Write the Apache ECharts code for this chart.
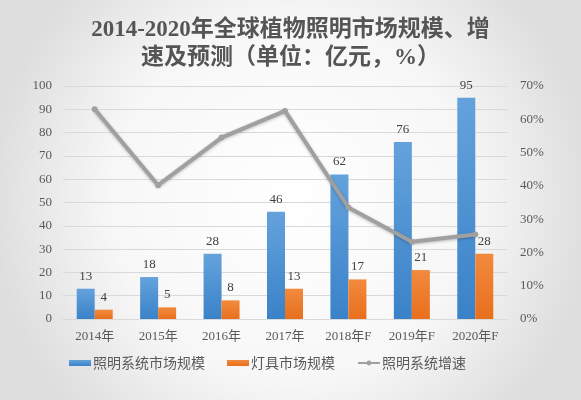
<!DOCTYPE html>
<html><head><meta charset="utf-8">
<script src="https://cdn.jsdelivr.net/npm/echarts@6/dist/echarts.min.js"></script>
<style>html,body{margin:0;padding:0;}#c{width:581px;height:400px;}</style>
</head><body><div id="c"></div>
<script>
const categories = ['2014年','2015年','2016年','2017年','2018年F','2019年F','2020年F'];
const lightingSystem = [13, 18, 28, 46, 62, 76, 95];
const luminaires = [4, 5, 8, 13, 17, 21, 28];
const growthRate = [63, 40.2, 54.5, 62.5, 33.5, 23.2, 25.4];
const leftTicks = {min: 0, max: 100, interval: 10};
const rightTicks = {min: 0, max: 70, interval: 10};

const numFont = "'Liberation Serif','Noto Sans CJK SC'";
const chart = echarts.init(document.getElementById('c'));
chart.setOption({
  backgroundColor: {
    type: 'radial', x: 0.5, y: 0.5, r: 0.75,
    colorStops: [{offset: 0, color: '#ffffff'}, {offset: 0.6, color: '#f7f7f7'}, {offset: 1, color: '#dedede'}]
  },
  title: {
    text: '2014-2020年全球植物照明市场规模、增\n速及预测（单位：亿元，%）',
    left: 'center', top: 11,
    textStyle: {fontSize: 23, fontWeight: 'bold', color: '#555555', lineHeight: 28,
      fontFamily: "'Liberation Serif','Noto Sans CJK SC'"}
  },
  legend: {
    left: 64, top: 351, itemGap: 22, itemWidth: 22, itemHeight: 6,
    textStyle: {fontSize: 14, color: '#595959', fontFamily: "'Noto Sans CJK SC'", padding: [0,0,0,-3]},
    data: [
      {name: '照明系统市场规模', icon: 'rect'},
      {name: '灯具市场规模', icon: 'rect'},
      {name: '照明系统增速'}
    ]
  },
  grid: {left: 63, right: 74, top: 86, bottom: 81},
  xAxis: {
    type: 'category', data: categories,
    axisLine: {lineStyle: {color: '#d9d9d9'}}, axisTick: {show: false},
    axisLabel: {fontSize: 13, color: '#595959', margin: 11, fontFamily: numFont}
  },
  yAxis: [
    {type: 'value', min: leftTicks.min, max: leftTicks.max, interval: leftTicks.interval,
     axisLabel: {fontSize: 13, color: '#595959', margin: 11, fontFamily: numFont},
     splitLine: {lineStyle: {color: '#d9d9d9'}}, axisLine: {show: false}, axisTick: {show: false}},
    {type: 'value', min: rightTicks.min, max: rightTicks.max, interval: rightTicks.interval,
     axisLabel: {fontSize: 13, color: '#595959', margin: 13, formatter: '{value}%', fontFamily: numFont},
     splitLine: {show: false}, axisLine: {show: false}, axisTick: {show: false}}
  ],
  series: [
    {name: '照明系统市场规模', type: 'bar', data: lightingSystem, barWidth: 18, barGap: '0%',
     itemStyle: {color: new echarts.graphic.LinearGradient(0,0,0,1,[{offset:0,color:'#64a2dc'},{offset:1,color:'#3a82c8'}])},
     label: {show: true, position: 'top', distance: 6, fontSize: 13, color: '#404040', fontFamily: numFont}},
    {name: '灯具市场规模', type: 'bar', data: luminaires, barWidth: 18,
     itemStyle: {color: new echarts.graphic.LinearGradient(0,0,0,1,[{offset:0,color:'#f28a3e'},{offset:1,color:'#e86f1c'}])},
     label: {show: true, position: 'top', distance: 6, fontSize: 13, color: '#404040', fontFamily: numFont}},
    {name: '照明系统增速', type: 'line', yAxisIndex: 1, data: growthRate, z: 5,
     symbol: 'circle', symbolSize: 6,
     lineStyle: {color: '#a0a0a0', width: 4, shadowColor: 'rgba(0,0,0,0.25)', shadowBlur: 3, shadowOffsetY: 1},
     itemStyle: {color: '#a0a0a0'}}
  ],
  animation: false
});
</script></body></html>
